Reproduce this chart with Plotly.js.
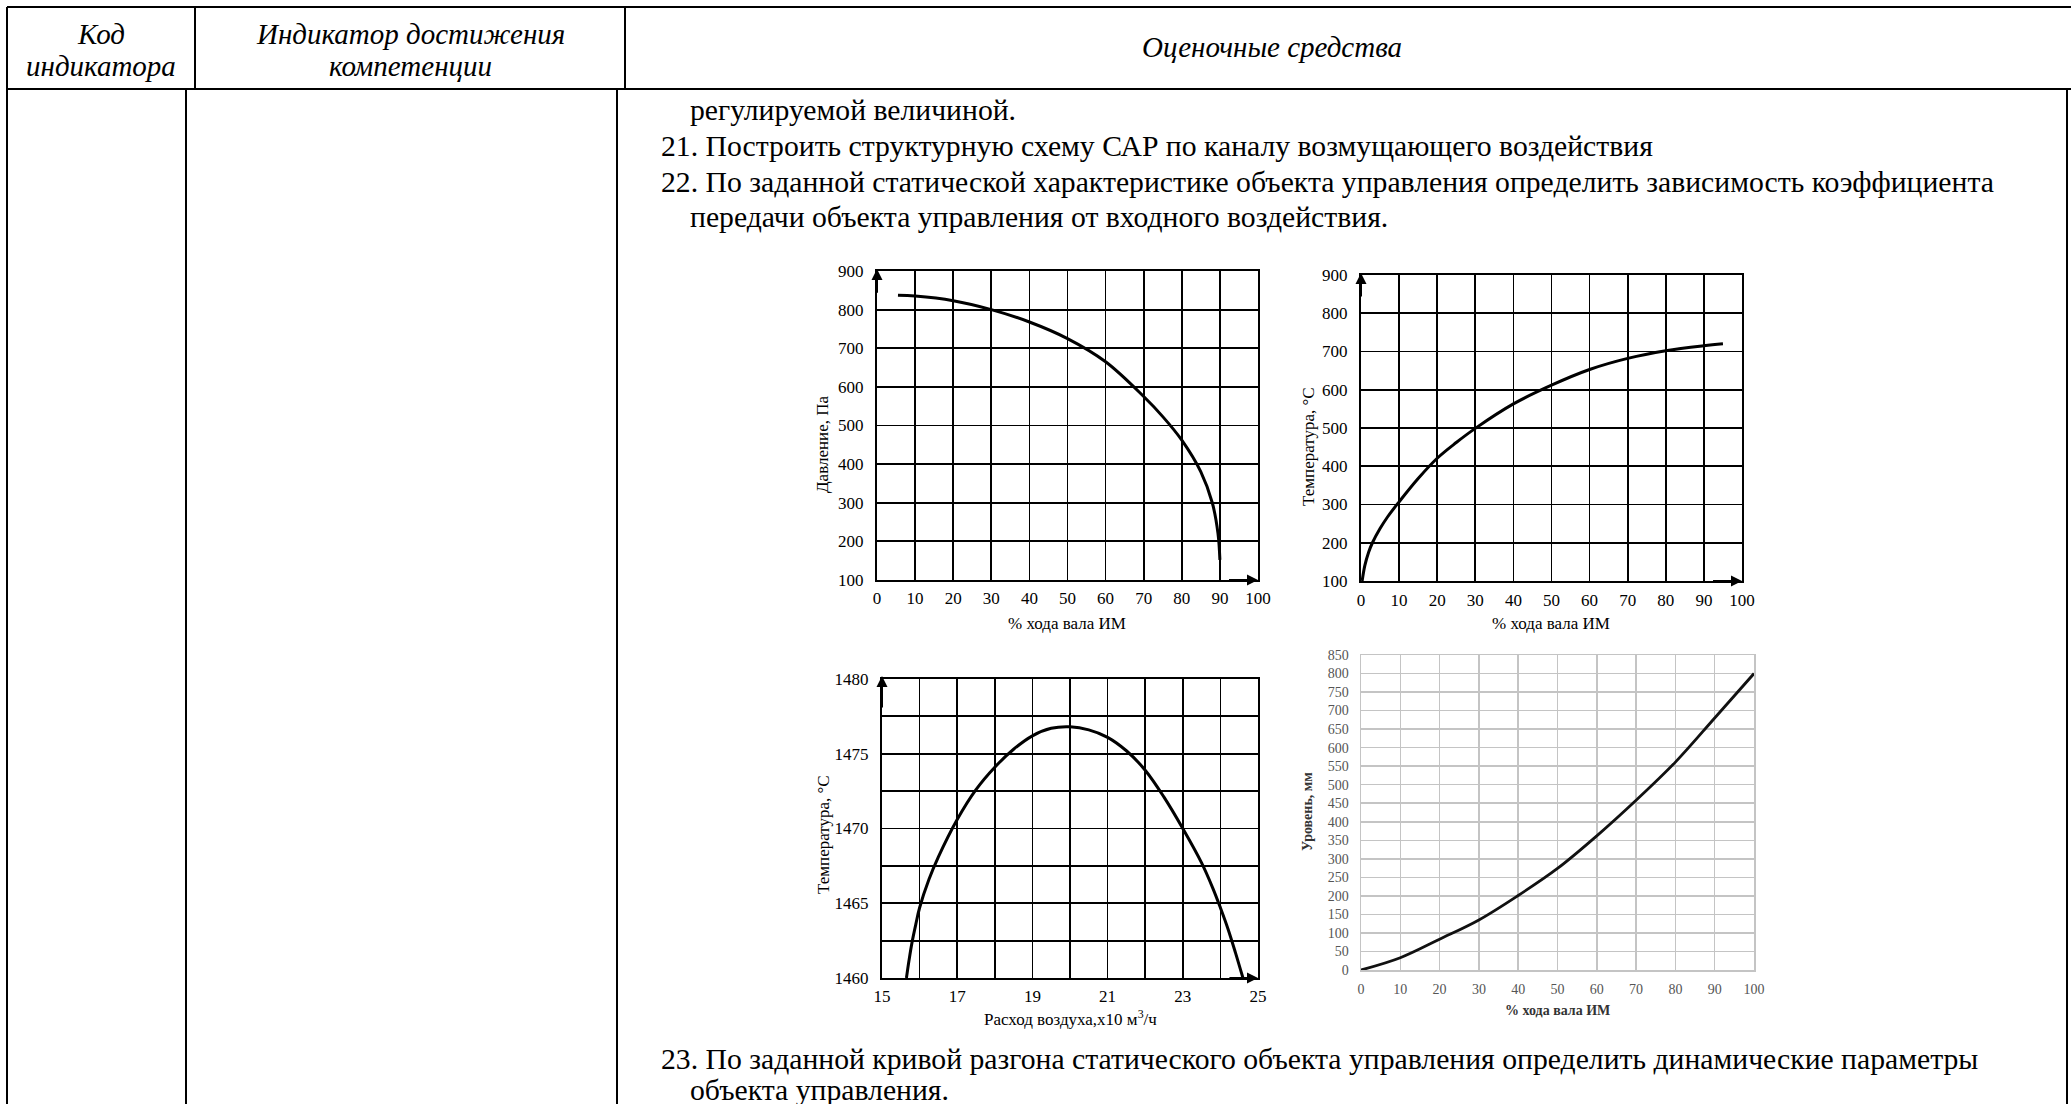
<!DOCTYPE html>
<html>
<head>
<meta charset="utf-8">
<script src="https://cdn.plot.ly/plotly-3.0.1.min.js"></script>
<style>
html,body{margin:0;padding:0;background:#fff;}
#page{width:2071px;height:1104px;}
</style>
</head>
<body>
<div id="page"></div>
<script>
// ---------- DATA ----------
// Chart 1: Давление vs % хода вала ИМ
const pressureX = [5.5, 10, 20, 30, 40, 50, 60, 70, 75, 80, 85, 88, 89.5, 90];
const pressureY = [837, 835, 823, 800, 768, 725, 665, 575, 523, 462, 380, 300, 220, 152];
// Chart 2: Температура vs % хода вала ИМ
const tempX = [0.3, 1, 2, 3, 5, 7, 10, 15, 20, 25, 30, 40, 50, 60, 70, 80, 90, 95];
const tempY = [100, 140, 175, 200, 237, 268, 307, 368, 421, 462, 499, 563, 612, 653, 682, 702, 715, 720];
// Chart 3: Температура vs Расход воздуха
const airX = [15.65, 15.72, 15.8, 15.9, 16, 16.25, 16.5, 17, 17.5, 18, 18.5, 19, 19.5, 20, 20.5, 21, 21.5, 22, 22.5, 23, 23.5, 23.8, 24, 24.2, 24.4, 24.6];
const airY = [1460, 1461.2, 1462.4, 1463.6, 1464.7, 1466.6, 1468.1, 1470.6, 1472.6, 1474.1, 1475.3, 1476.2, 1476.7, 1476.8, 1476.6, 1476.1, 1475.2, 1473.9, 1472.1, 1470, 1467.7, 1466.0, 1464.7, 1463.3, 1461.7, 1460];
// Chart 4: Уровень vs % хода вала ИМ
const levelX = [0, 10, 20, 30, 40, 50, 60, 70, 80, 90, 100];
const levelY = [0, 33, 83, 135, 201, 274, 362, 458, 561, 680, 800];

// Texts
const headerCol1 = ["Код", "индикатора"];
const headerCol2 = ["Индикатор достижения", "компетенции"];
const headerCol3 = "Оценочные средства";
const bodyLines = [
  "регулируемой величиной.",
  "21. Построить структурную схему САР по каналу возмущающего воздействия",
  "22. По заданной статической характеристике объекта управления определить зависимость коэффициента",
  "передачи объекта управления от входного воздействия.",
  "23. По заданной кривой разгона статического объекта управления определить динамические параметры",
  "объекта управления."
];
const xTitle1 = "% хода вала ИМ";
const yTitle1 = "Давление, Па";
const xTitle2 = "% хода вала ИМ";
const yTitle2 = "Температура, °C";
const xTitle3 = "Расход воздуха,х10 м<sup>3</sup>/ч";
const yTitle3 = "Температура, °C";
const xTitle4 = "% хода вала ИМ";
const yTitle4 = "Уровень, мм";

// ---------- LAYOUT HELPERS ----------
const W = 2071, H = 1104;
const fx = p => p / W;
const fy = p => 1 - p / H;
const SERIF = "Liberation Serif";

function hline(x0, x1, y, w) {
  return {type:'line', xref:'paper', yref:'paper', x0:fx(x0), x1:fx(x1), y0:fy(y), y1:fy(y), line:{color:'#000', width:w||2}};
}
function vline(x, y0, y1, w) {
  return {type:'line', xref:'paper', yref:'paper', x0:fx(x), x1:fx(x), y0:fy(y0), y1:fy(y1), line:{color:'#000', width:w||2}};
}
function txt(text, x, y, opts) {
  opts = opts || {};
  return Object.assign({
    xref:'paper', yref:'paper', x:fx(x), y:fy(y), text:text, showarrow:false,
    xanchor:'center', yanchor:'middle',
    font:{family:SERIF, size:17, color:'#000'}
  }, opts);
}

const shapes = [
  hline(7, 2071, 7),
  hline(7, 2071, 89),
  vline(7, 7, 1104),
  vline(195, 7, 89),
  vline(625, 7, 89),
  vline(186, 89, 1104),
  vline(617, 89, 1104),
  vline(2067, 89, 1104)
];

const hdrFont = () => ({family:SERIF, size:29, color:'#000', style:'italic'});
const bodyFont = () => ({family:SERIF, size:29.7, color:'#000'});

const annotations = [
  txt(headerCol1[0], 101, 34, {font:hdrFont()}),
  txt(headerCol1[1], 101, 66, {font:hdrFont()}),
  txt(headerCol2[0], 410, 34, {font:hdrFont()}),
  txt(headerCol2[1], 410, 66, {font:hdrFont()}),
  txt(headerCol3, 1272, 47, {font:hdrFont()}),
  txt(bodyLines[0], 688, 110, {xanchor:'left', align:'left', font:bodyFont()}),
  txt(bodyLines[1], 659, 146, {xanchor:'left', align:'left', font:bodyFont()}),
  txt(bodyLines[2], 659, 182, {xanchor:'left', align:'left', font:bodyFont()}),
  txt(bodyLines[3], 688, 217, {xanchor:'left', align:'left', font:bodyFont()}),
  txt(bodyLines[4], 659, 1059, {xanchor:'left', align:'left', font:bodyFont()}),
  txt(bodyLines[5], 688, 1090, {xanchor:'left', align:'left', font:bodyFont()}),
  // axis titles
  txt(xTitle1, 1067, 623),
  txt(yTitle1, 823, 445, {textangle:-90}),
  txt(xTitle2, 1551, 623),
  txt(yTitle2, 1308, 447, {textangle:-90}),
  txt(xTitle3, 1070, 1018),
  txt(yTitle3, 823, 835, {textangle:-90}),
  txt(xTitle4, 1557, 1010, {font:{family:SERIF, size:14, color:'#333', weight:'bold'}}),
  txt(yTitle4, 1307, 812, {textangle:-90, font:{family:SERIF, size:14, color:'#333', weight:'bold'}})
];

// axis arrows (in data coords of each subplot)
function arrow(xr, yr, x, y, ax, ay) {
  return {xref:xr, yref:yr, axref:xr, ayref:yr, x:x, y:y, ax:ax, ay:ay, text:'',
          showarrow:true, arrowhead:2, arrowsize:1.1, arrowwidth:2, arrowcolor:'#000', standoff:0};
}
annotations.push(arrow('x','y', 0, 905, 0, 840));
annotations.push(arrow('x','y', 100, 100, 92, 100));
annotations.push(arrow('x2','y2', 0, 905, 0, 840));
annotations.push(arrow('x2','y2', 100, 100, 92, 100));
annotations.push(arrow('x3','y3', 15, 1480.2, 15, 1478));
annotations.push(arrow('x3','y3', 25, 1460, 24.2, 1460));

const tickFont = {family:SERIF, size:17, color:'#000'};
function blackAxis(domain, range, dtick, anchor, extra) {
  return Object.assign({
    domain:domain, range:range, dtick:dtick, tick0:range[0], anchor:anchor,
    showgrid:true, gridcolor:'#000', gridwidth:1.8,
    showline:true, linecolor:'#000', linewidth:2, mirror:true,
    zeroline:false, ticks:'', tickfont:tickFont, fixedrange:true, automargin:false
  }, extra||{});
}

const layout = {
  width:W, height:H, margin:{l:0, r:0, t:0, b:0},
  paper_bgcolor:'#fff', plot_bgcolor:'#fff', showlegend:false,
  shapes:shapes, annotations:annotations,
  xaxis:  blackAxis([fx(877), fx(1258)], [0,100], 10, 'y', {ticklabelstandoff:2}),
  yaxis:  blackAxis([fy(580), fy(271)], [100,900], 100, 'x', {ticklabelstandoff:8}),
  xaxis2: blackAxis([fx(1361), fx(1742)], [0,100], 10, 'y2', {ticklabelstandoff:3}),
  yaxis2: blackAxis([fy(581), fy(275)], [100,900], 100, 'x2', {ticklabelstandoff:8}),
  xaxis3: blackAxis([fx(882), fx(1258)], [15,25], 2, 'y3', {ticklabelstandoff:2,
            minor:{dtick:1, tick0:15, showgrid:true, gridcolor:'#000', gridwidth:1.8, ticks:''}}),
  yaxis3: blackAxis([fy(978), fy(679)], [1460,1480], 5, 'x3', {ticklabelstandoff:8,
            minor:{dtick:2.5, tick0:1460, showgrid:true, gridcolor:'#000', gridwidth:1.8, ticks:''}}),
  xaxis4: {domain:[fx(1361), fx(1754)], range:[0,100], dtick:10, tick0:0, anchor:'y4',
           showgrid:true, gridcolor:'#c4c4c4', gridwidth:1.5, showline:true, linecolor:'#c4c4c4', linewidth:1.5, mirror:true,
           zeroline:false, ticks:'', ticklabelstandoff:6, tickfont:{family:SERIF, size:14, color:'#555'}, fixedrange:true, automargin:false},
  yaxis4: {domain:[fy(970), fy(655)], range:[0,850], dtick:50, tick0:0, anchor:'x4',
           showgrid:true, gridcolor:'#c4c4c4', gridwidth:1.5, showline:true, linecolor:'#c4c4c4', linewidth:1.5, mirror:true,
           zeroline:false, ticks:'', ticklabelstandoff:8, tickfont:{family:SERIF, size:14, color:'#555'}, fixedrange:true, automargin:false}
};

const lineStyle = {color:'#000', width:3, shape:'spline', smoothing:1};
const data = [
  {x:pressureX, y:pressureY, xaxis:'x', yaxis:'y', mode:'lines', line:lineStyle, hoverinfo:'skip'},
  {x:tempX, y:tempY, xaxis:'x2', yaxis:'y2', mode:'lines', line:lineStyle, hoverinfo:'skip'},
  {x:airX, y:airY, xaxis:'x3', yaxis:'y3', mode:'lines', line:lineStyle, hoverinfo:'skip'},
  {x:levelX, y:levelY, xaxis:'x4', yaxis:'y4', mode:'lines', line:{color:'#111', width:2.8, shape:'spline'}, hoverinfo:'skip'}
];

Plotly.newPlot('page', data, layout, {displayModeBar:false, staticPlot:true});
</script>
</body>
</html>
